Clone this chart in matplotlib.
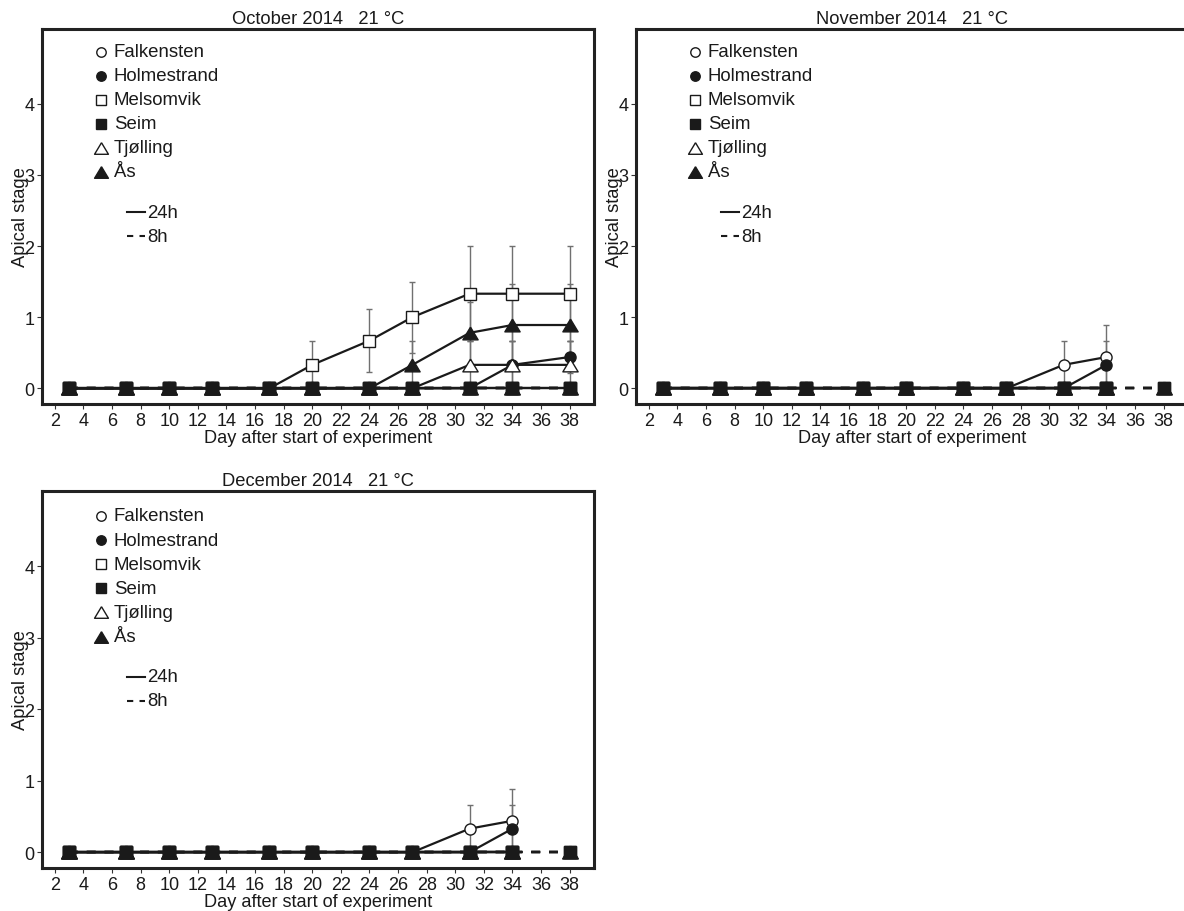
import matplotlib
matplotlib.use("Agg")
import matplotlib.pyplot as plt
from matplotlib.lines import Line2D

plt.rcParams["font.family"] = ["Liberation Sans", "DejaVu Sans"]

# ---- data -------------------------------------------------------------
days = [3, 7, 10, 13, 17, 20, 24, 27, 31, 34, 38]
days_short = [3, 7, 10, 13, 17, 20, 24, 27, 31, 34]

sites = ["Falkensten", "Holmestrand", "Melsomvik", "Seim", "Tjølling", "Ås"]

# October 2014, 24h photoperiod
oct_falkensten = [0, 0, 0, 0, 0, 0, 0, 0, 0, 0, 0]
oct_holmestrand = [0, 0, 0, 0, 0, 0, 0, 0, 0, 0.33, 0.44]
oct_melsomvik = [0, 0, 0, 0, 0, 0.33, 0.67, 1.0, 1.33, 1.33, 1.33]
oct_seim = [0, 0, 0, 0, 0, 0, 0, 0, 0, 0, 0]
oct_tjolling = [0, 0, 0, 0, 0, 0, 0, 0, 0.33, 0.33, 0.33]
oct_aas = [0, 0, 0, 0, 0, 0, 0, 0.33, 0.78, 0.89, 0.89]

oct_falkensten_err = [0, 0, 0, 0, 0, 0, 0, 0, 0, 0, 0]
oct_holmestrand_err = [0, 0, 0, 0, 0, 0, 0, 0, 0, 0.33, 0.23]
oct_melsomvik_err = [0, 0, 0, 0, 0, 0.33, 0.44, 0.5, 0.67, 0.67, 0.67]
oct_seim_err = [0, 0, 0, 0, 0, 0, 0, 0, 0, 0, 0]
oct_tjolling_err = [0, 0, 0, 0, 0, 0, 0, 0, 0.33, 0.33, 0.33]
oct_aas_err = [0, 0, 0, 0, 0, 0, 0, 0.33, 0.44, 0.58, 0.58]

# November / December 2014, 24h photoperiod (to day 34)
nov_falkensten = [0, 0, 0, 0, 0, 0, 0, 0, 0.33, 0.44]
nov_holmestrand = [0, 0, 0, 0, 0, 0, 0, 0, 0, 0.33]
nov_melsomvik = [0, 0, 0, 0, 0, 0, 0, 0, 0, 0]
nov_seim = [0, 0, 0, 0, 0, 0, 0, 0, 0, 0]
nov_tjolling = [0, 0, 0, 0, 0, 0, 0, 0, 0, 0]
nov_aas = [0, 0, 0, 0, 0, 0, 0, 0, 0, 0]

nov_falkensten_err = [0, 0, 0, 0, 0, 0, 0, 0, 0.33, 0.45]
nov_holmestrand_err = [0, 0, 0, 0, 0, 0, 0, 0, 0, 0.33]
nov_zero_err = [0, 0, 0, 0, 0, 0, 0, 0, 0, 0]

# 8h photoperiod (all sites remain vegetative)
short_day_vals = [0, 0, 0, 0, 0, 0, 0, 0, 0, 0, 0]

titles = ["October 2014   21 \u00b0C", "November 2014   21 \u00b0C",
          "December 2014   21 \u00b0C"]

# ---- styles -----------------------------------------------------------
# slightly flattened triangle, wider than tall
tri = [(0, 1), (-1.2, -1), (1.2, -1), (0, 1)]

marker_styles = {
    "Falkensten": dict(marker="o", mfc="white", ms=8),
    "Holmestrand": dict(marker="o", mfc="#1a1a1a", ms=8),
    "Melsomvik": dict(marker="s", mfc="white", ms=8.3),
    "Seim": dict(marker="s", mfc="#1a1a1a", ms=8.3),
    "Tjølling": dict(marker=tri, mfc="white", ms=11),
    "Ås": dict(marker=tri, mfc="#1a1a1a", ms=11),
}
key_sizes = {"Falkensten": 6.8, "Holmestrand": 6.8, "Melsomvik": 7.0,
             "Seim": 7.0, "Tjølling": 10.0, "Ås": 10.0}

panels = [
    dict(title=titles[0], x24=days,
         vals=[oct_falkensten, oct_holmestrand, oct_melsomvik, oct_seim,
               oct_tjolling, oct_aas],
         errs=[oct_falkensten_err, oct_holmestrand_err, oct_melsomvik_err,
               oct_seim_err, oct_tjolling_err, oct_aas_err]),
    dict(title=titles[1], x24=days_short,
         vals=[nov_falkensten, nov_holmestrand, nov_melsomvik, nov_seim,
               nov_tjolling, nov_aas],
         errs=[nov_falkensten_err, nov_holmestrand_err, nov_zero_err,
               nov_zero_err, nov_zero_err, nov_zero_err]),
    dict(title=titles[2], x24=days_short,
         vals=[nov_falkensten, nov_holmestrand, nov_melsomvik, nov_seim,
               nov_tjolling, nov_aas],
         errs=[nov_falkensten_err, nov_holmestrand_err, nov_zero_err,
               nov_zero_err, nov_zero_err, nov_zero_err]),
]

W, H = 1184, 912
fig = plt.figure(figsize=(W / 100, H / 100), dpi=100)

rects = [
    (42 / W, 1 - 405 / H, 552 / W, 375 / H),
    (636 / W, 1 - 405 / H, 552 / W, 375 / H),
    (42 / W, 1 - 869 / H, 552 / W, 377 / H),
]

edge = "#1a1a1a"
txt = "#1a1a1a"
for rect, p in zip(rects, panels):
    ax = fig.add_axes(rect)
    # error bars first, beneath the markers
    for site, v, e in zip(sites, p["vals"], p["errs"]):
        xs = [x for x, ee in zip(p["x24"], e) if ee > 0]
        ys = [y for y, ee in zip(v, e) if ee > 0]
        es = [ee for ee in e if ee > 0]
        if xs:
            ax.errorbar(xs, ys, yerr=es, fmt="none", ecolor="#707070",
                        elinewidth=1.0, capsize=2.5, capthick=1.0, zorder=1)
    # 24h series
    for site, v in zip(sites, p["vals"]):
        st = marker_styles[site]
        ax.plot(p["x24"], v, color=edge, lw=1.6, marker=st["marker"],
                mfc=st["mfc"], mec=edge, ms=st["ms"], mew=1.0, zorder=3)
    # 8h series, all at stage 0
    for site in sites:
        st = marker_styles[site]
        ax.plot(days, short_day_vals, color=edge, lw=1.6,
                dashes=(4, 4), marker=st["marker"], mfc=st["mfc"],
                mec=edge, ms=st["ms"], mew=1.0, zorder=4)

    ax.set_xlim(1.1, 39.7)
    ax.set_ylim(-0.22, 5.05)
    ax.set_xticks(range(2, 39, 2))
    ax.set_yticks([0, 1, 2, 3, 4])
    ax.tick_params(axis="both", direction="out", length=3.5, width=0.8,
                   color="#333333", labelsize=13, pad=2, labelcolor=txt)
    for s in ax.spines.values():
        s.set_linewidth(2.2)
        s.set_color("#222222")
    ax.set_title(p["title"], fontsize=13.2, pad=4, color=txt)
    ax.set_xlabel("Day after start of experiment", fontsize=13.1, color=txt)
    ax.xaxis.set_label_coords(0.5, -0.066)
    ax.set_ylabel("Apical stage", fontsize=13.2, color=txt)
    ax.yaxis.set_label_coords(-0.024, 0.5)

    # key: sites
    ytop = 0.939 if rect[3] < 0.412 else 0.934
    step = 0.064
    for i, site in enumerate(sites):
        st = marker_styles[site]
        yy = ytop - i * step
        ax.plot([0.106], [yy], transform=ax.transAxes, marker=st["marker"],
                mfc=st["mfc"], mec=edge, ms=key_sizes[site], mew=1.0,
                ls="none", clip_on=False)
        ax.text(0.13, yy, site, transform=ax.transAxes, fontsize=13.4,
                va="center", ha="left", color=txt)
    # key: photoperiods
    for j, (lab, ls) in enumerate([("24h", "-"), ("8h", (0, (3, 3)))]):
        yy = ytop - 6 * step - 0.043 - j * step
        ax.add_line(Line2D([0.154, 0.187], [yy, yy], transform=ax.transAxes,
                           color=edge, lw=1.5, linestyle=ls))
        ax.text(0.19, yy, lab, transform=ax.transAxes, fontsize=13.4,
                va="center", ha="left", color=txt)

fig.savefig("out.png", dpi=100)
